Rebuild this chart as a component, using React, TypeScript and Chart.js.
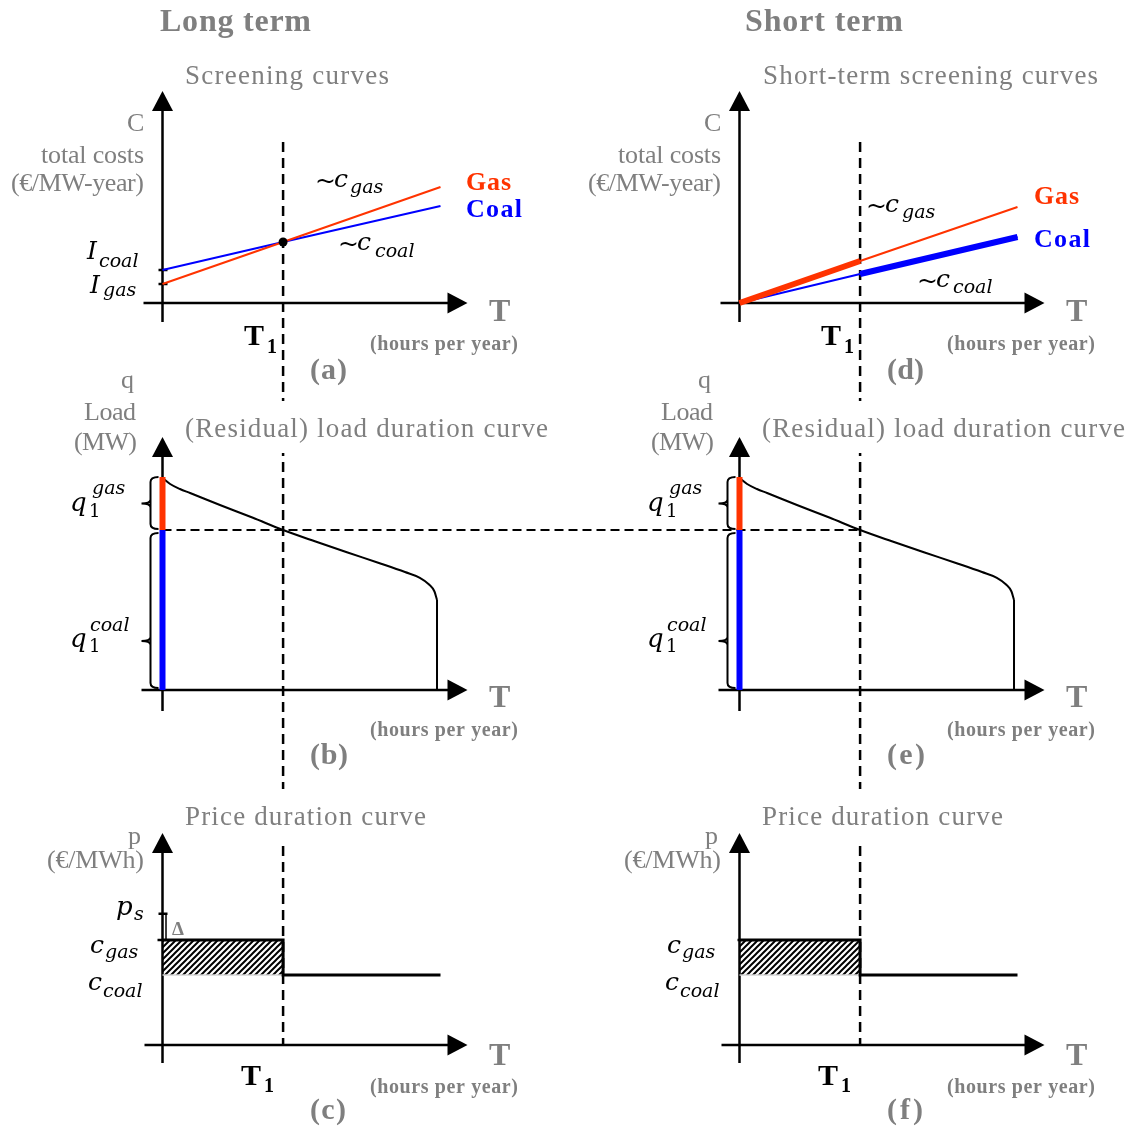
import { useEffect, useRef } from 'react';
import { Chart, registerables } from 'chart.js';

Chart.register(...registerables);

const W = 1130;
const H = 1129;

// ---------------- data ----------------
const T_MAX = 8760; // hours per year
const T1 = 3800; // switching time between gas and coal
const SCREEN_T = [0, T1, T_MAX];
// long-term screening curves (cost units)
const LT_GAS_COST = [19, 61, 116];
const LT_COAL_COST = [33, 61, 97];
const I_GAS = 19;
const I_COAL = 33;
const LT_CROSS = 61;
// short-term screening curves
const ST_GAS_COST = [0, 42, 96];
const ST_COAL_COST = [0, 29, 66];
// residual load duration curve (MW)
const LOAD_T = [0, 240, 550, 870, 1810, 2850, 3800, 4800, 5810, 6820, 7640, 8110, 8400, 8570, 8650];
const LOAD_MW = [2120, 2060, 2010, 1970, 1850, 1722, 1600, 1487, 1377, 1270, 1180, 1122, 1055, 985, 900];
const LOAD_END_T = 8650;
const Q_PEAK = 2130;
const Q1_COAL = 1600;
const Q_COAL_MARK = 490;
// price duration curve (EUR/MWh)
const PRICE_T = [0, T1, T1, T_MAX];
const PRICE = [60, 60, 40, 40];
const C_GAS = 60;
const C_COAL = 40;
const P_S = 75;

// ---------------- layout ----------------
const COL_ORIGIN = { xL: 162.5, xR: 739.5 };
const ROW_ORIGIN = { yCost: 303, yLoad: 690, yPrice: 1045 };
const PX_PER_HOUR = 278 / T_MAX;
const PX_PER_COST = 1;
const PX_PER_MW = 0.1;
const PX_PER_EUR = 1.75;
const GUIDE_TOP_COST = 161;

const GRAY = '#7f7f7f';
const RED = '#ff3300';
const BLUE = '#0000ff';

const xScale = (origin: number) => ({
  type: 'linear' as const,
  display: false,
  bounds: 'data' as const,
  min: -origin / PX_PER_HOUR,
  max: (W - origin) / PX_PER_HOUR,
});
const yScale = (origin: number, ppu: number) => ({
  type: 'linear' as const,
  display: false,
  bounds: 'data' as const,
  min: -(H - origin) / ppu,
  max: origin / ppu,
});

const pts = (xs: number[], ys: number[]) => xs.map((x, i) => ({ x, y: ys[i] }));

function ln(data: any[], xAxisID: string, yAxisID: string, color: any, width: number, extra: any = {}) {
  return {
    type: 'line',
    data,
    xAxisID,
    yAxisID,
    borderColor: color,
    backgroundColor: color,
    borderWidth: width,
    pointRadius: 0,
    fill: false,
    tension: 0,
    borderCapStyle: 'butt',
    ...extra,
  };
}

function makeHatch(): CanvasPattern | string {
  const c = document.createElement('canvas');
  c.width = 6;
  c.height = 6;
  const g = c.getContext('2d');
  if (!g) return '#888';
  g.strokeStyle = '#000';
  g.lineWidth = 2;
  g.beginPath();
  g.moveTo(0, 6); g.lineTo(6, 0);
  g.moveTo(-3, 3); g.lineTo(3, -3);
  g.moveTo(3, 9); g.lineTo(9, 3);
  g.stroke();
  return g.createPattern(c, 'repeat') || '#888';
}

function buildDatasets(hatch: any) {
  const ds: any[] = [];
  for (const col of ['xL', 'xR']) {
    ds.push(ln(pts([0, T1], [C_GAS, C_GAS]), col, 'yPrice', 'rgba(0,0,0,0)', 0, {
      fill: { value: C_COAL }, backgroundColor: hatch, order: 30,
    }));
    ds.push(ln(pts([0, T1], [C_COAL, C_COAL]), col, 'yPrice', '#d4d4d4', 1.5, { order: 29 }));
    ds.push(ln(pts(PRICE_T, PRICE), col, 'yPrice', '#000', 3, { order: 5 }));
    ds.push(ln(pts(LOAD_T, LOAD_MW), col, 'yLoad', '#000', 2, { cubicInterpolationMode: 'monotone', order: 6 }));
    ds.push(ln(pts([LOAD_END_T, LOAD_END_T], [LOAD_MW[LOAD_MW.length - 1], 0]), col, 'yLoad', '#000', 2, { order: 6 }));
    ds.push(ln(pts([0, 0], [Q_PEAK, Q1_COAL]), col, 'yLoad', RED, 6, { order: 1 }));
    ds.push(ln(pts([0, 0], [Q1_COAL, 0]), col, 'yLoad', BLUE, 6, { order: 1 }));
  }
  ds.push(ln(pts(SCREEN_T, LT_COAL_COST), 'xL', 'yCost', BLUE, 2, { order: 5 }));
  ds.push(ln(pts(SCREEN_T, LT_GAS_COST), 'xL', 'yCost', RED, 2, { order: 4 }));
  ds.push(ln([{ x: T1, y: LT_CROSS }], 'xL', 'yCost', '#000', 0, {
    showLine: false, pointRadius: 4.5, pointBackgroundColor: '#000', pointBorderWidth: 0, order: 0,
  }));
  ds.push(ln(pts(SCREEN_T, ST_GAS_COST), 'xR', 'yCost', RED, 2, { order: 7 }));
  ds.push(ln(pts(SCREEN_T, ST_COAL_COST), 'xR', 'yCost', BLUE, 2, { order: 7 }));
  ds.push(ln(pts(SCREEN_T.slice(0, 2), ST_GAS_COST.slice(0, 2)), 'xR', 'yCost', RED, 6, { order: 3 }));
  ds.push(ln(pts(SCREEN_T.slice(1), ST_COAL_COST.slice(1)), 'xR', 'yCost', BLUE, 6, { order: 3 }));
  return ds;
}

// ---------------- text ----------------
const SERIF = '"Liberation Serif", "Times New Roman", Times, serif';
const MATHF = '"DejaVu Serif", serif';
const F = {
  big: `bold 32px ${SERIF}`,
  title: `27px ${SERIF}`,
  label: `26px ${SERIF}`,
  T: `bold 32px ${SERIF}`,
  hours: `bold 20px ${SERIF}`,
  panel: `bold 30px ${SERIF}`,
  t1: `bold 30px ${SERIF}`,
  t1sub: `bold 20px ${SERIF}`,
  legend: `bold 26px ${SERIF}`,
  math: `italic 25px ${MATHF}`,
  mathq: `italic 26px ${MATHF}`,
  sub: `italic 19px ${MATHF}`,
  digit: `18px ${MATHF}`,
  tilde: `25px ${MATHF}`,
  delta: `bold 19px ${SERIF}`,
};

type TextItem = { s: string; x: number; y: number; f: string; c?: string; w?: number; bg?: boolean };

function columnTexts(dx: number, letters: string[]): TextItem[] {
  const g = GRAY;
  const items: TextItem[] = [
    { s: 'C', x: 127, y: 131, f: F.label, c: g },
    { s: 'total costs', x: 41, y: 163, f: F.label, c: g, w: 103 },
    { s: '(€/MW-year)', x: 11, y: 191, f: F.label, c: g, w: 133 },
    { s: 'T', x: 489, y: 321, f: F.T, c: g },
    { s: '(hours per year)', x: 370, y: 350, f: F.hours, c: g, w: 148 },
    { s: 'T', x: 244, y: 345, f: F.t1, c: '#000' },
    { s: '1', x: 267, y: 353, f: F.t1sub, c: '#000' },
    { s: letters[0], x: 310, y: 379, f: F.panel, c: g, w: 37 },

    { s: 'q', x: 121, y: 388, f: F.label, c: g },
    { s: 'Load', x: 84, y: 420, f: F.label, c: g, w: 52 },
    { s: '(MW)', x: 74, y: 450, f: F.label, c: g, w: 63 },
    { s: '(Residual) load duration curve', x: 185, y: 437, f: F.title, c: g, w: 363, bg: true },
    { s: 'q', x: 70, y: 511, f: F.mathq, c: '#000' },
    { s: '1', x: 89, y: 517, f: F.digit, c: '#000' },
    { s: 'gas', x: 92, y: 494, f: F.sub, c: '#000' },
    { s: 'q', x: 70, y: 647, f: F.mathq, c: '#000' },
    { s: '1', x: 89, y: 652, f: F.digit, c: '#000' },
    { s: 'coal', x: 90, y: 631, f: F.sub, c: '#000' },
    { s: 'T', x: 489, y: 707, f: F.T, c: g },
    { s: '(hours per year)', x: 370, y: 736, f: F.hours, c: g, w: 148 },
    { s: letters[1], x: 310, y: 764, f: F.panel, c: g, w: 38 },

    { s: 'Price duration curve', x: 185, y: 825, f: F.title, c: g, w: 241, bg: true },
    { s: 'p', x: 128, y: 844, f: F.label, c: g },
    { s: '(€/MWh)', x: 47, y: 868, f: F.label, c: g, w: 97 },
    { s: 'c', x: 90, y: 953, f: F.math, c: '#000' },
    { s: 'gas', x: 105, y: 958, f: F.sub, c: '#000' },
    { s: 'c', x: 88, y: 990, f: F.math, c: '#000' },
    { s: 'coal', x: 103, y: 997, f: F.sub, c: '#000' },
    { s: 'T', x: 489, y: 1065, f: F.T, c: g },
    { s: '(hours per year)', x: 370, y: 1093, f: F.hours, c: g, w: 148 },
    { s: 'T', x: 241, y: 1085, f: F.t1, c: '#000' },
    { s: '1', x: 264, y: 1092, f: F.t1sub, c: '#000' },
    { s: letters[2], x: 310, y: 1119, f: F.panel, c: g, w: 36 },
  ];
  return items.map((t) => ({ ...t, x: t.x + dx }));
}

const TEXTS: TextItem[] = [
  { s: 'Long term', x: 160, y: 31, f: F.big, c: GRAY, w: 151 },
  { s: 'Screening curves', x: 185, y: 84, f: F.title, c: GRAY, w: 204 },
  { s: 'Short term', x: 745, y: 31, f: F.big, c: GRAY, w: 158 },
  { s: 'Short-term screening curves', x: 763, y: 84, f: F.title, c: GRAY, w: 335 },
  ...columnTexts(0, ['(a)', '(b)', '(c)']),
  ...columnTexts(577, ['(d)', '(e)', '(f)']),
  // panel (a)
  { s: 'I', x: 87, y: 259, f: F.math, c: '#000' },
  { s: 'coal', x: 99, y: 267, f: F.sub, c: '#000' },
  { s: 'I', x: 90, y: 293, f: F.math, c: '#000' },
  { s: 'gas', x: 103, y: 296, f: F.sub, c: '#000' },
  { s: '~', x: 315, y: 189, f: F.tilde, c: '#000' },
  { s: 'c', x: 334, y: 187, f: F.math, c: '#000' },
  { s: 'gas', x: 350, y: 193, f: F.sub, c: '#000' },
  { s: '~', x: 338, y: 252, f: F.tilde, c: '#000' },
  { s: 'c', x: 357, y: 250, f: F.math, c: '#000' },
  { s: 'coal', x: 375, y: 257, f: F.sub, c: '#000' },
  { s: 'Gas', x: 466, y: 190, f: F.legend, c: RED, w: 45 },
  { s: 'Coal', x: 466, y: 217, f: F.legend, c: BLUE, w: 56 },
  // panel (c)
  { s: 'p', x: 116, y: 915, f: F.mathq, c: '#000' },
  { s: 's', x: 134, y: 920, f: F.sub, c: '#000' },
  { s: 'Δ', x: 172, y: 935, f: F.delta, c: GRAY },
  // panel (d)
  { s: '~', x: 866, y: 214, f: F.tilde, c: '#000' },
  { s: 'c', x: 885, y: 212, f: F.math, c: '#000' },
  { s: 'gas', x: 902, y: 218, f: F.sub, c: '#000' },
  { s: '~', x: 917, y: 289, f: F.tilde, c: '#000' },
  { s: 'c', x: 936, y: 287, f: F.math, c: '#000' },
  { s: 'coal', x: 953, y: 293, f: F.sub, c: '#000' },
  { s: 'Gas', x: 1034, y: 204, f: F.legend, c: RED, w: 45 },
  { s: 'Coal', x: 1034, y: 247, f: F.legend, c: BLUE, w: 56 },
];

function drawText(ctx: CanvasRenderingContext2D, t: TextItem) {
  ctx.save();
  ctx.font = t.f;
  ctx.textAlign = 'left';
  ctx.textBaseline = 'alphabetic';
  const anyCtx = ctx as any;
  anyCtx.letterSpacing = '0px';
  let width = ctx.measureText(t.s).width;
  if (t.w) {
    const n = Array.from(t.s).length;
    if (n > 1) {
      const sp = (t.w - width) / (n - 1);
      anyCtx.letterSpacing = sp.toFixed(2) + 'px';
      width = t.w;
    }
  }
  if (t.bg) {
    ctx.fillStyle = '#ffffff';
    ctx.fillRect(t.x - 4, t.y - 36, width + 8, 52);
  }
  ctx.fillStyle = t.c || '#000';
  ctx.fillText(t.s, t.x, t.y);
  ctx.restore();
}

const ROWS = [
  { y: 'yCost', up: 212, down: 19, left: 19, right: 305 },
  { y: 'yLoad', up: 253, down: 21, left: 21, right: 305 },
  { y: 'yPrice', up: 212, down: 18, left: 18, right: 305 },
];

function brace(ctx: CanvasRenderingContext2D, ox: number, top: number, bottom: number, mid: number) {
  const vx = ox - 12;
  const rx = ox - 4;
  const tx = ox - 21;
  ctx.beginPath();
  ctx.moveTo(rx, top);
  ctx.quadraticCurveTo(vx, top, vx, top + 5);
  ctx.lineTo(vx, bottom - 5);
  ctx.quadraticCurveTo(vx, bottom, rx, bottom);
  ctx.moveTo(vx, mid - 4);
  ctx.quadraticCurveTo(vx, mid, tx, mid);
  ctx.moveTo(vx, mid + 4);
  ctx.quadraticCurveTo(vx, mid, tx, mid);
  ctx.stroke();
}

const decorPlugin = {
  id: 'decor',
  beforeDatasetsDraw(chart: any) {
    const ctx: CanvasRenderingContext2D = chart.ctx;
    const s = chart.scales;
    ctx.save();
    ctx.strokeStyle = '#000';
    ctx.fillStyle = '#000';
    for (const col of ['xL', 'xR']) {
      for (const r of ROWS) {
        const ox = s[col].getPixelForValue(0);
        const oy = s[r.y].getPixelForValue(0);
        ctx.lineWidth = 2.5;
        ctx.setLineDash([]);
        ctx.beginPath();
        ctx.moveTo(ox, oy + r.down);
        ctx.lineTo(ox, oy - r.up + 16);
        ctx.moveTo(ox - r.left, oy);
        ctx.lineTo(ox + r.right - 16, oy);
        ctx.stroke();
        ctx.beginPath();
        ctx.moveTo(ox, oy - r.up);
        ctx.lineTo(ox - 10.5, oy - r.up + 20);
        ctx.lineTo(ox + 10.5, oy - r.up + 20);
        ctx.closePath();
        ctx.fill();
        ctx.beginPath();
        ctx.moveTo(ox + r.right, oy);
        ctx.lineTo(ox + r.right - 20, oy - 10.5);
        ctx.lineTo(ox + r.right - 20, oy + 10.5);
        ctx.closePath();
        ctx.fill();
      }
      const gx = s[col].getPixelForValue(T1);
      ctx.lineWidth = 2.5;
      ctx.setLineDash([10, 6]);
      ctx.beginPath();
      ctx.moveTo(gx, s.yCost.getPixelForValue(GUIDE_TOP_COST));
      ctx.lineTo(gx, s.yPrice.getPixelForValue(0));
      ctx.stroke();
      ctx.setLineDash([]);
      const ox = s[col].getPixelForValue(0);
      ctx.lineWidth = 2;
      const yTop = s.yLoad.getPixelForValue(Q_PEAK);
      const yMid = s.yLoad.getPixelForValue(Q1_COAL);
      const yBot = s.yLoad.getPixelForValue(0);
      brace(ctx, ox, yTop, yMid - 1, (yTop + yMid) / 2);
      brace(ctx, ox, yMid + 3, yBot - 2, s.yLoad.getPixelForValue(Q_COAL_MARK));
      ctx.lineWidth = 2.5;
      const yg = s.yPrice.getPixelForValue(C_GAS);
      ctx.beginPath();
      ctx.moveTo(ox - (col === 'xL' ? 5 : 2), yg);
      ctx.lineTo(ox, yg);
      ctx.stroke();
    }
    ctx.lineWidth = 2;
    ctx.setLineDash([9, 5]);
    const hy = s.yLoad.getPixelForValue(Q1_COAL);
    ctx.beginPath();
    ctx.moveTo(s.xL.getPixelForValue(0), hy);
    ctx.lineTo(s.xR.getPixelForValue(T1), hy);
    ctx.stroke();
    ctx.setLineDash([]);
    const oxL = s.xL.getPixelForValue(0);
    ctx.lineWidth = 2.5;
    for (const v of [I_COAL, I_GAS]) {
      const y = s.yCost.getPixelForValue(v);
      ctx.beginPath();
      ctx.moveTo(oxL - 4, y);
      ctx.lineTo(oxL + 5, y);
      ctx.stroke();
    }
    const yps = s.yPrice.getPixelForValue(P_S);
    ctx.beginPath();
    ctx.moveTo(oxL - 4, yps);
    ctx.lineTo(oxL + 5, yps);
    ctx.stroke();
    ctx.lineWidth = 1.5;
    ctx.beginPath();
    ctx.moveTo(oxL + 3.5, yps);
    ctx.lineTo(oxL + 3.5, s.yPrice.getPixelForValue(C_GAS));
    ctx.stroke();
    ctx.restore();
  },
  afterDatasetsDraw(chart: any) {
    const ctx: CanvasRenderingContext2D = chart.ctx;
    for (const t of TEXTS) drawText(ctx, t);
  },
};

export default function App() {
  const ref = useRef<HTMLCanvasElement>(null);
  useEffect(() => {
    document.body.style.margin = '0';
    const canvas = ref.current;
    if (!canvas) return;
    const hatch = makeHatch();
    const chart = new Chart(canvas, {
      type: 'line',
      data: { datasets: buildDatasets(hatch) as any },
      options: {
        responsive: false,
        maintainAspectRatio: false,
        animation: false,
        events: [],
        layout: { padding: 0, autoPadding: false },
        plugins: { legend: { display: false }, tooltip: { enabled: false } },
        scales: {
          xL: xScale(COL_ORIGIN.xL),
          xR: xScale(COL_ORIGIN.xR),
          yCost: yScale(ROW_ORIGIN.yCost, PX_PER_COST),
          yLoad: yScale(ROW_ORIGIN.yLoad, PX_PER_MW),
          yPrice: yScale(ROW_ORIGIN.yPrice, PX_PER_EUR),
        } as any,
      },
      plugins: [decorPlugin as any],
    });
    return () => chart.destroy();
  }, []);
  return <canvas ref={ref} width={W} height={H} style={{ display: 'block', width: W, height: H }} />;
}
